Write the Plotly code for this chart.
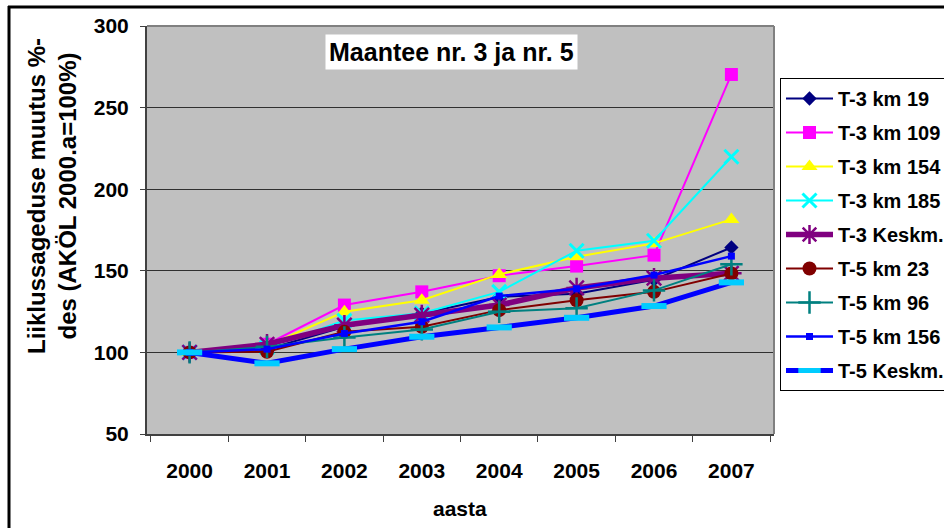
import plotly.graph_objects as go

# data
years = ['2000', '2001', '2002', '2003', '2004', '2005', '2006', '2007']

t3_km19 = [100, 102, 115.7, 123.9, 134, 136, 144.5, 164.3]
t3_km109 = [100, 105, 129, 137.1, 147, 152.9, 159.6, 270.3]
t3_km154 = [100, 104, 124.9, 132, 147.8, 158.6, 166.8, 181.5]
t3_km185 = [100, 103, 119.5, 124, 137.1, 162.3, 168.4, 219.9]
t3_keskm = [100, 105, 116.7, 122.9, 129, 139.5, 145.5, 148.5]
t5_km23 = [100, 100.4, 112.6, 115.7, 125.9, 132, 137.1, 148.4]
t5_km96 = [100, 103.4, 109.2, 114.1, 124.9, 127, 138, 154]
t5_km156 = [100, 102, 111.6, 118.8, 134.5, 139, 147.4, 159]
t5_keskm = [100, 93.3, 102, 109.6, 115.3, 121.2, 128.4, 142.9]

series_names = ['T-3 km 19', 'T-3 km 109', 'T-3 km 154', 'T-3 km 185', 'T-3 Keskm.',
                'T-5 km 23', 'T-5 km 96', 'T-5 km 156', 'T-5 Keskm.']

FONT = 'Liberation Sans, Arial, sans-serif'

# values, line colour, line width, marker
styles = [
    (t3_km19, '#000080', 2, dict(symbol='diamond', size=11, color='#000080')),
    (t3_km109, '#FF00FF', 2, dict(symbol='square', size=13, color='#FF00FF')),
    (t3_km154, '#FFFF00', 2, dict(symbol='triangle-up', size=14, color='#FFFF00')),
    (t3_km185, '#00FFFF', 2, dict(symbol='x-thin-open', size=14, color='#00FFFF', line=dict(width=3, color='#00FFFF'))),
    (t3_keskm, '#800080', 5.5, dict(symbol='asterisk-open', size=17, color='#800080', line=dict(width=2.5, color='#800080'))),
    (t5_km23, '#800000', 2, dict(symbol='circle', size=14, color='#800000')),
    (t5_km96, '#008080', 2, dict(symbol='cross-thin-open', size=16, color='#008080', line=dict(width=2.5, color='#008080'))),
    (t5_km156, '#0000FF', 2.5, dict(symbol='square', size=7, color='#0000FF')),
    (t5_keskm, '#0000FF', 5, dict(symbol='line-ew-open', size=18, color='#00CCFF', line=dict(width=6, color='#00CCFF'))),
]

fig = go.Figure()

for i, (name, (vals, col, lw, mk)) in enumerate(zip(series_names, styles)):
    fig.add_trace(go.Scatter(
        x=years, y=vals, name=name, mode='lines+markers',
        line=dict(color=col, width=lw), marker=mk,
        legendgroup=str(i),
    ))

# plot area: x 147..774, y 26..434 in pixels
W, H = 944, 528
L, R, T, B = 147, 170, 26, 94
pw, ph = W - L - R, H - T - B


def px_x(p):
    return (p - L) / pw


def px_y(p):
    return (H - B - p) / ph


fig.update_layout(
    width=W, height=H,
    margin=dict(l=L, r=R, t=T, b=B, autoexpand=False),
    paper_bgcolor='white',
    plot_bgcolor='#C0C0C0',
    font=dict(family=FONT, size=21, color='black'),
    showlegend=True,
    legend=dict(
        x=px_x(780), y=px_y(78), xanchor='left', yanchor='top',
        bgcolor='white', bordercolor='black', borderwidth=1,
        font=dict(family=FONT, size=20, color='black', weight='bold'),
        tracegroupgap=5, itemwidth=47,
    ),
    xaxis=dict(
        type='category', tickson='boundaries', ticks='outside', ticklen=6,
        tickcolor='#404040', showline=True, linecolor='#404040', linewidth=2,
        showgrid=False, ticklabelstandoff=17,
        tickfont=dict(family=FONT, size=21, weight='bold'),
    ),
    yaxis=dict(
        range=[50, 300], dtick=50, ticks='outside', ticklen=5, tickcolor='#404040',
        showline=True, linecolor='#404040', linewidth=2,
        showgrid=True, gridcolor='#303030', gridwidth=1, zeroline=False,
        ticklabelstandoff=7,
        tickfont=dict(family=FONT, size=21, weight='bold'),
    ),
)

# grey frame on top and right of the plot area
fig.add_shape(type='line', xref='paper', yref='paper', x0=0, x1=1, y0=1, y1=1,
              line=dict(color='#808080', width=2))
fig.add_shape(type='line', xref='paper', yref='paper', x0=1, x1=1, y0=0, y1=1,
              line=dict(color='#808080', width=2))

# outer black frame (top and left visible)
fig.add_shape(type='line', xref='paper', yref='paper', x0=px_x(8), x1=px_x(960), y0=px_y(7), y1=px_y(7),
              line=dict(color='black', width=3))
fig.add_shape(type='line', xref='paper', yref='paper', x0=px_x(9), x1=px_x(9), y0=px_y(6), y1=px_y(540),
              line=dict(color='black', width=3))

# chart title in white box
fig.add_annotation(
    text='Maantee nr. 3 ja nr. 5', xref='paper', yref='paper',
    x=px_x(451), y=px_y(52), xanchor='center', yanchor='middle', showarrow=False,
    bgcolor='white', borderpad=3,
    font=dict(family=FONT, size=25, weight='bold', color='black'),
)

# y axis title
fig.add_annotation(
    text='Liiklussageduse muutus %-<br>des (AKÖL 2000.a=100%)', xref='paper', yref='paper',
    x=px_x(52), y=px_y(196), xanchor='center', yanchor='middle', showarrow=False,
    textangle=-90, font=dict(family=FONT, size=24, weight='bold'),
)

# x axis title
fig.add_annotation(
    text='aasta', xref='paper', yref='paper',
    x=px_x(460), y=px_y(508), xanchor='center', yanchor='middle', showarrow=False,
    font=dict(family=FONT, size=21, weight='bold'),
)

fig.write_html('out.html', config={'displayModeBar': False},
               post_script="document.body.style.margin='0';")
